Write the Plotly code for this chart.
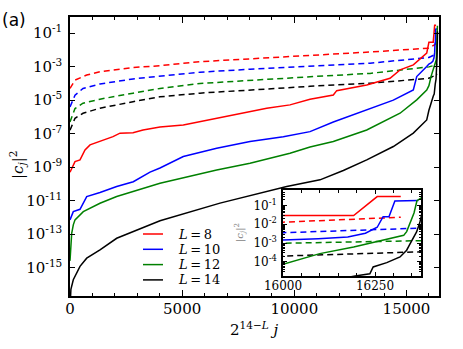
import plotly.graph_objects as go

# sorted |c_j|^2, kept as log10 values
# x axis is 2^(14-L) j
x_l8 = [0, 134, 223, 446, 669, 892, 1337, 1917, 2229, 2809, 3255, 4012, 5051, 6540, 7579, 8770,
        9808, 10700, 11739, 11890, 13228, 14267, 14713, 15305, 15903, 16000, 16064, 16128, 16192,
        16256, 16320]
logc_l8 = [-9.3, -8.97, -8.67, -8.57, -7.97, -7.67, -7.47, -7.18, -6.97, -6.94, -6.78, -6.6, -6.48,
           -6.08, -5.78, -5.48, -5.28, -4.95, -4.69, -4.43, -4.09, -3.69, -3.19, -2.89, -2.19, -1.54,
           -1.54, -1.54, -1.54, -0.53, -0.53]
x_l10 = [0, 147, 446, 593, 745, 1337, 2082, 2822, 3567, 4012, 5051, 6540, 8025, 9510, 10700, 11739,
         13228, 14414, 15305, 15457, 15903, 16000, 16096, 16176, 16224, 16240, 16256, 16272, 16288,
         16304, 16320, 16368]
logc_l10 = [-12.15, -11.66, -11.52, -11.16, -10.76, -10.52, -10.16, -9.87, -9.3, -9.05, -8.37, -7.87,
            -7.47, -7.18, -6.88, -6.3, -5.6, -5.0, -4.39, -3.59, -2.99, -2.84, -2.77, -2.68, -2.48,
            -2.30, -2.16, -1.60, -1.60, -0.76, -0.76, -0.74]
x_l12 = [0, 40, 76, 147, 223, 593, 1337, 2082, 2822, 4012, 6540, 8025, 9808, 10700, 11739, 13228,
         14713, 15457, 15903, 16000, 16100, 16192, 16236, 16328, 16336, 16348, 16356, 16364, 16380]
logc_l12 = [-14.6, -13.8, -12.95, -12.45, -12.15, -11.66, -11.16, -10.76, -10.46, -9.96, -9.17, -8.77,
            -8.17, -7.8, -7.47, -6.78, -5.78, -4.98, -4.39, -4.13, -3.56, -3.21, -3.01, -2.59, -2.39,
            -1.8, -1.4, -0.75, -0.55]
x_l14 = [0, 40, 147, 446, 745, 1337, 2082, 2822, 4012, 6687, 8172, 9661, 11145, 12184, 13228, 14414,
         15305, 15903, 16000, 16100, 16196, 16236, 16245, 16282, 16318, 16336, 16343, 16350, 16363,
         16372, 16378, 16383]
logc_l14 = [-17.5, -16.3, -15.73, -14.93, -14.44, -13.94, -13.25, -12.85, -12.2, -11.15, -10.66, -10.16,
            -9.76, -9.2, -8.57, -7.77, -6.97, -6.18, -5.6, -5.1, -4.75, -4.63, -4.27, -4.04, -3.74,
            -3.38, -3.12, -2.85, -2.41, -1.9, -1.3, -0.9]

# dashed curves
xd_l8 = [0, 223, 745, 1337, 2809, 4012, 5796, 8025, 10254, 13375, 16000, 16320]
logd_l8 = [-4.3, -3.8, -3.5, -3.3, -3.05, -2.94, -2.70, -2.54, -2.38, -2.12, -1.89, -1.63]
xd_l10 = [0, 223, 580, 1337, 2809, 4012, 5796, 8025, 10700, 13375, 16000, 16368]
logd_l10 = [-5.4, -4.7, -4.3, -4.03, -3.73, -3.56, -3.33, -3.15, -2.99, -2.79, -2.45, -2.21]
xd_l12 = [0, 223, 580, 1337, 2809, 4012, 5796, 8025, 10700, 13375, 16000, 16380]
logd_l12 = [-6.3, -5.5, -5.18, -4.94, -4.58, -4.3, -4.0, -3.8, -3.6, -3.4, -3.01, -2.87]
xd_l14 = [0, 223, 580, 1337, 2809, 4012, 5796, 8025, 10700, 13375, 16000, 16383]
logd_l14 = [-6.8, -6.08, -5.78, -5.48, -5.09, -4.8, -4.58, -4.39, -4.17, -3.99, -3.69, -3.46]

labels = ["8", "10", "12", "14"]
colors = ["#ff0000", "#0000ff", "#008000", "#000000"]
solid = [(x_l8, logc_l8), (x_l10, logc_l10), (x_l12, logc_l12), (x_l14, logc_l14)]
dashed = [(xd_l8, logd_l8), (xd_l10, logd_l10), (xd_l12, logd_l12), (xd_l14, logd_l14)]

main_xticks = [0, 5000, 10000, 15000]
main_yticks = [-1, -3, -5, -7, -9, -11, -13, -15]
inset_xticks = [16000, 16250]
inset_yticks = [-1, -2, -3, -4]

W, H = 463, 349
L, R, T, B = 70, 439, 17, 296


def px(x):
    return (x - L) / (R - L)


def py(y):
    return (B - y) / (B - T)


serif = "DejaVu Serif"
fig = go.Figure()

for (xs, ys), c in zip(dashed, colors):
    for ax in [("x", "y"), ("x2", "y2")]:
        fig.add_trace(go.Scatter(x=xs, y=[10 ** v for v in ys], mode="lines",
                                 line=dict(color=c, width=1.5, dash="6px,4px"),
                                 showlegend=False, xaxis=ax[0], yaxis=ax[1]))

for (xs, ys), c in zip(solid, colors):
    for ax in [("x", "y"), ("x2", "y2")]:
        fig.add_trace(go.Scatter(x=xs, y=[10 ** v for v in ys], mode="lines",
                                 line=dict(color=c, width=1.5), showlegend=False,
                                 xaxis=ax[0], yaxis=ax[1]))

# hand-made legend (plotly's rows are taller than the original's)
annotations = []
shapes = []
for i, (c, lab) in enumerate(zip(colors, labels)):
    yrow = 234 + i * 15.3
    shapes.append(dict(type="line", xref="paper", yref="paper", x0=px(143), x1=px(163),
                       y0=py(yrow), y1=py(yrow), line=dict(color=c, width=1.5)))
    annotations.append(dict(text="<i>L</i>\u2009=\u2009" + lab, x=px(176), y=py(yrow),
                            xref="paper", yref="paper", xanchor="left", yanchor="middle",
                            showarrow=False, font=dict(family=serif, size=13)))

annotations += [
    dict(text="(a)", x=px(14), y=py(20), xref="paper", yref="paper", showarrow=False,
         xanchor="center", yanchor="middle", font=dict(family="DejaVu Sans", size=17)),
    dict(text="|<i>c</i><sub><i>j</i></sub>|<sup>2</sup>", x=px(17), y=py(165),
         xref="paper", yref="paper", showarrow=False, textangle=-90,
         xanchor="center", yanchor="middle", font=dict(family=serif, size=15)),
    dict(text="2<sup>14\u2212<i>L</i></sup> <i>j</i>", x=px(254), y=py(329),
         xref="paper", yref="paper", showarrow=False,
         xanchor="center", yanchor="middle", font=dict(family=serif, size=15)),
    dict(text="|<i>c</i><sub><i>j</i></sub>|<sup>2</sup>", x=px(240), y=py(233),
         xref="paper", yref="paper", showarrow=False, textangle=-90,
         xanchor="center", yanchor="middle", font=dict(family=serif, size=10, color="#808080")),
]

axis_style = dict(showline=True, linecolor="black", linewidth=1.5, mirror="ticks",
                  ticks="inside", tickcolor="black", showgrid=False, zeroline=False,
                  automargin=False)

fig.update_layout(
    template="none",
    width=W, height=H,
    margin=dict(l=L, r=W - R, t=T, b=H - B, pad=0),
    paper_bgcolor="white", plot_bgcolor="white",
    font=dict(family=serif, size=15, color="black"),
    showlegend=False,
    xaxis=dict(range=[0, 16450], tickvals=main_xticks, ticktext=[str(v) for v in main_xticks],
               ticklen=6, tickwidth=1.2, ticklabelstandoff=-2,
               minor=dict(dtick=1000, tick0=0, ticks="inside", ticklen=3.5, tickcolor="black"),
               tickfont=dict(size=15), **axis_style),
    yaxis=dict(type="log", range=[-16.7, -0.03], tickvals=[10 ** v for v in main_yticks],
               ticktext=["10<sup>%d</sup>" % v for v in main_yticks], ticklen=5, tickwidth=1.2,
               ticklabelstandoff=3, tickfont=dict(size=15), **axis_style),
    xaxis2=dict(domain=[px(283), px(421)], anchor="y2", range=[16000, 16375],
                tickvals=inset_xticks, ticktext=[str(v) for v in inset_xticks],
                ticklen=4, tickwidth=1, ticklabelstandoff=-2,
                minor=dict(dtick=50, tick0=16000, ticks="inside", ticklen=3, tickcolor="black"),
                tickfont=dict(size=12), **axis_style),
    yaxis2=dict(domain=[py(276), py(190)], anchor="x2", type="log", range=[-4.75, -0.18],
                tickvals=[10 ** v for v in inset_yticks],
                ticktext=["10<sup>%d</sup>" % v for v in inset_yticks], ticklen=4, tickwidth=1,
                minor=dict(tickvals=[k * 10 ** d for d in range(-5, 0) for k in range(2, 10)],
                           ticks="inside", ticklen=2, tickcolor="black"),
                ticklabelstandoff=2, tickfont=dict(size=12), **axis_style),
    shapes=shapes,
    annotations=annotations,
)

# drop the page's default 8px body margin so the figure sits at the window corner
fig.write_html("out.html", config={"displayModeBar": False},
               post_script="document.body.style.margin='0';")
